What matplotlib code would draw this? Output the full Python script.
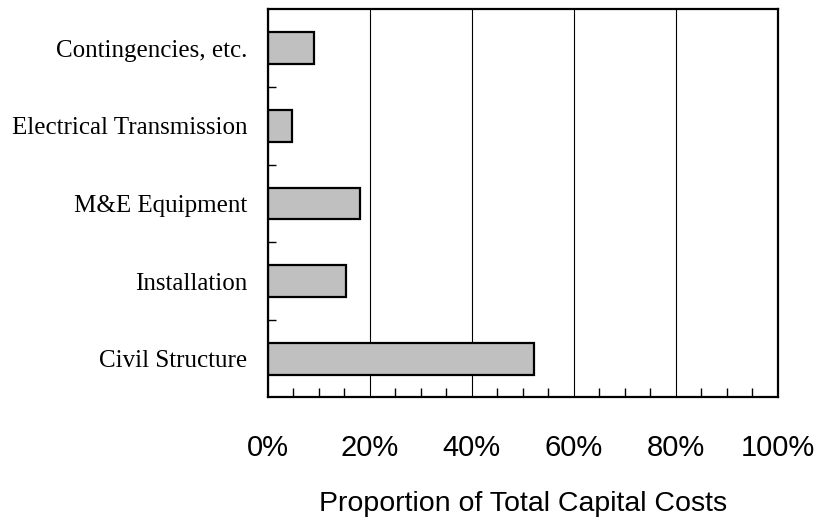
import matplotlib
matplotlib.use('Agg')
import matplotlib.pyplot as plt
import numpy as np
from matplotlib.ticker import MultipleLocator, FuncFormatter

# cost breakdown (percent)
categories = ['Civil Structure', 'Installation', 'M&E Equipment',
              'Electrical Transmission', 'Contingencies, etc.']
shares = [52.2, 15.3, 18.0, 4.7, 9.0]

fig = plt.figure(figsize=(8.18, 5.23), dpi=100)
ax = fig.add_axes([0.3276, 0.24, 0.6229, 0.742])

ypos = np.arange(len(categories))
ax.barh(ypos, shares, height=0.41, color='#c0c0c0', edgecolor='black',
        linewidth=1.6, zorder=2)

ax.set_xlim(0, 100)
ax.set_ylim(-0.5, len(categories) - 0.5)

# vertical grid lines every 20%, kept under the bars
ax.xaxis.set_major_locator(MultipleLocator(20))
ax.xaxis.set_minor_locator(MultipleLocator(5))
ax.xaxis.set_major_formatter(FuncFormatter(lambda v, p: '%d%%' % v))
for g in ax.get_xticks()[1:-1]:
    ax.axvline(g, color='black', linewidth=0.8, zorder=1)

ax.set_yticks(ypos)
ax.set_yticklabels(categories, family='Liberation Serif', fontsize=18)
ax.set_yticks(ypos[:-1] + 0.5, minor=True)

ax.tick_params(axis='x', which='major', direction='in', length=0, pad=26,
               labelsize=21)
ax.tick_params(axis='x', which='minor', direction='in', length=6.5, width=1)
ax.tick_params(axis='y', which='major', direction='in', length=4.8, width=1,
               pad=15)
ax.tick_params(axis='y', which='minor', direction='in', length=5.8, width=1)
for lbl in ax.get_xticklabels():
    lbl.set_family('Liberation Sans')

ax.set_xlabel('Proportion of Total Capital Costs', family='Liberation Sans',
              fontsize=20.5, labelpad=21)

for s in ax.spines.values():
    s.set_linewidth(1.6)
    s.set_zorder(4)

fig.savefig('out.png', dpi=100)
